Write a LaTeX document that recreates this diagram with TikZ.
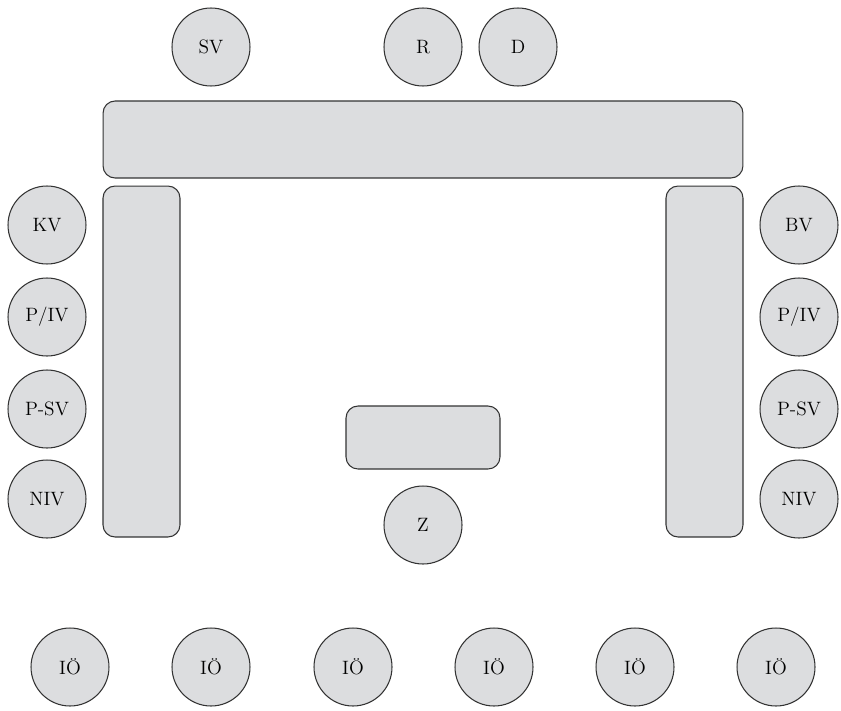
\documentclass[tikz,border=0pt]{standalone}
\definecolor{seatgray}{HTML}{DCDDDF}
\begin{document}
\begin{tikzpicture}[x=0.02cm, y=-0.02cm,
    seat/.style={circle, draw=black!80, line width=0.6pt, fill=seatgray,
      minimum size=1.56cm, inner sep=0pt, font=\fontsize{11}{13}\selectfont},
    tbl/.style={rectangle, draw=black!80, line width=0.6pt, fill=seatgray,
      rounded corners=0.24cm, inner sep=0pt}
  ]
    \useasboundingbox (0,0) rectangle (841,710);
    % tables
    \node[tbl, minimum width=12.8cm, minimum height=1.54cm] (top) at (423,139.5) {};
    \node[tbl, minimum width=1.54cm, minimum height=7.02cm] (left) at (141.5,361.5) {};
    \node[tbl, minimum width=1.54cm, minimum height=7.02cm] (right) at (704.5,361.5) {};
    \node[tbl, minimum width=3.08cm, minimum height=1.26cm] (middle) at (423,437.5) {};
    % seats at the top
    \node[seat] (sv) at (211,47) {SV};
    \node[seat] (r) at (423,47) {R};
    \node[seat] (d) at (518,47) {D};
    % seats on the left
    \node[seat] (kv) at (47,225) {KV};
    \node[seat] (piv1) at (47,317) {P/IV};
    \node[seat] (psv1) at (47,409) {P-SV};
    \node[seat] (niv1) at (47,499) {NIV};
    % seats on the right
    \node[seat] (bv) at (799,225) {BV};
    \node[seat] (piv2) at (799,317) {P/IV};
    \node[seat] (psv2) at (799,409) {P-SV};
    \node[seat] (niv2) at (799,499) {NIV};
    % centre
    \node[seat] (z) at (423,525) {Z};
    % audience
    \foreach \x [count=\i] in {70,211,353,494,635,776}
      \node[seat] (io\i) at (\x,667) {IÖ};
  \end{tikzpicture}
\end{document}
